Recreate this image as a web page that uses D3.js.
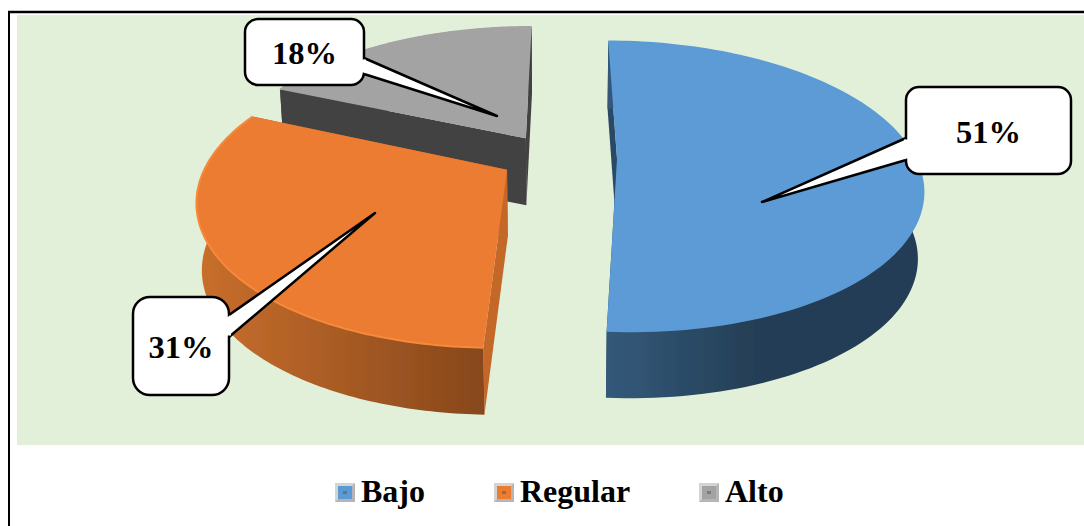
<!DOCTYPE html>
<html lang="es">
<head>
<meta charset="UTF-8">
<title>Bajo Regular Alto</title>
<script src="https://d3js.org/d3.v7.min.js"></script>
<style>
    html, body { margin: 0; padding: 0; background: #fff; overflow: hidden; }
    svg { display: block; }
    text { font-family: "Liberation Serif", serif; font-weight: bold; fill: #000; }
</style>
</head>
<body>
<script>
const categories = ["Bajo", "Regular", "Alto"];
const values = [51, 31, 18];
const labels = ["51%", "31%", "18%"];
const topColors = ["#5b9bd5", "#eb7c30", "#a3a3a3"];
const rimColors = ["#5b9bd5", "#f68a3a", "#a3a3a3"];
const innerColors = ["#2a4a66", "#c4682a", "#434343"];
const wallLeft = ["#34597a", "#c96f2d", "#434343"];
const wallRight = ["#243e55", "#87471b", "#434343"];

const width = 1084, height = 526;

// perspective view of the pie
const cx = 557, cy = 158, R = 298, ky = 0.4675, persp = 0.19;
const explode = [60, 57, 60], explodeY = 0.85, depth = 67, bottomScale = 0.985;
const rotation = 0.2 * Math.PI / 180;
// small turn of the slice edges (degrees) to follow the reference's 3D view
const turnStart = [0, -2, -2], turnEnd = [0, -2, 0];

// callout boxes, tail base is [side x, y1, y2]
const boxes = [
    { x: 906, y: 87, w: 165, h: 87, r: 13, base: [906, 138, 160], tip: [762, 202] },
    { x: 133, y: 297, w: 96, h: 98, r: 17, base: [229, 315, 337], tip: [375, 213] },
    { x: 245, y: 19, w: 119, h: 66, r: 13, base: [364, 58, 74], tip: [497, 116] }
];
const legendSwatchX = [335, 494, 699];

const svg = d3.select("body").append("svg")
    .attr("width", width)
    .attr("height", height);
const defs = svg.append("defs");
defs.append("filter").attr("id", "soft")
    .append("feGaussianBlur").attr("stdDeviation", 0.5);

// frame and plot background
svg.append("rect").attr("x", 17).attr("y", 15).attr("width", width - 17).attr("height", 430).attr("fill", "#e2efd9");
svg.append("line").attr("x1", 8).attr("x2", width).attr("y1", 12).attr("y2", 12).attr("stroke", "#000").attr("stroke-width", 2.5);
svg.append("line").attr("x1", 9).attr("x2", 9).attr("y1", 11).attr("y2", height).attr("stroke", "#000").attr("stroke-width", 2);

const pie = d3.pie().sort(null).startAngle(rotation).endAngle(rotation + 2 * Math.PI);
const arcs = pie(values);

// world point on the disc -> screen; level 0 = top face, 1 = bottom face
function project(wx, wy, level) {
    const s = 1 / (1 + persp * wy / R);
    const k = level ? bottomScale : 1;
    return [
        cx + wx * s * k,
        cy - ky * wy * s + (level ? depth : 0)
    ];
}

const line = d3.line();

function drawSlice(d, i) {
    const mid = (d.startAngle + d.endAngle) / 2;
    const ox = explode[i] * Math.sin(mid), oy = explode[i] * explodeY * Math.cos(mid);
    const a0 = d.startAngle + turnStart[i] * Math.PI / 180;
    const a1 = d.endAngle + turnEnd[i] * Math.PI / 180;
    const rimPoints = level => d3.range(0, 121).map(t => {
        const a = a0 + (a1 - a0) * t / 120;
        return project(ox + R * Math.sin(a), oy + R * Math.cos(a), level);
    });
    const apexTop = project(ox, oy, 0), apexBottom = project(ox, oy, 1);
    const top = rimPoints(0), bottom = rimPoints(1);
    const g = svg.append("g").attr("class", "slice").attr("filter", "url(#soft)");

    // radial faces
    [[top[0], bottom[0]], [top[120], bottom[120]]].forEach(e => {
        g.append("path")
            .attr("d", line([apexTop, e[0], e[1], apexBottom]) + "Z")
            .attr("fill", innerColors[i]);
    });

    // outer wall
    const xs = top.map(p => p[0]);
    const grad = defs.append("linearGradient")
        .attr("id", "wall" + i)
        .attr("gradientUnits", "userSpaceOnUse")
        .attr("x1", d3.min(xs))
        .attr("x2", i === 0 ? d3.min(xs) + 150 : bottom[0][0])
        .attr("y1", 0).attr("y2", 0);
    grad.append("stop").attr("offset", 0).attr("stop-color", wallLeft[i]);
    grad.append("stop").attr("offset", 1).attr("stop-color", wallRight[i]);
    g.append("path")
        .attr("d", line(top.concat(bottom.slice().reverse())) + "Z")
        .attr("fill", `url(#wall${i})`);

    // top face with a lit rim
    g.append("path")
        .attr("d", line([apexTop].concat(top)) + "Z")
        .attr("fill", topColors[i]);
    g.append("path")
        .attr("d", line(top))
        .attr("fill", "none")
        .attr("stroke", rimColors[i])
        .attr("stroke-width", 2);
}

// far slice first
[2, 1, 0].forEach(i => drawSlice(arcs[i], i));

// callouts
boxes.forEach((b, i) => {
    const g = svg.append("g").attr("class", "callout");
    const sx = b.base[0];
    const path = d3.path();
    path.moveTo(b.x + b.r, b.y);
    path.arcTo(b.x + b.w, b.y, b.x + b.w, b.y + b.h, b.r);
    path.arcTo(b.x + b.w, b.y + b.h, b.x, b.y + b.h, b.r);
    path.arcTo(b.x, b.y + b.h, b.x, b.y, b.r);
    path.arcTo(b.x, b.y, b.x + b.w, b.y, b.r);
    path.closePath();
    g.append("path").attr("d", path.toString())
        .attr("fill", "#fff").attr("stroke", "#000").attr("stroke-width", 2.5);
    // tail, drawn over the box edge so the opening stays white
    g.append("path")
        .attr("d", `M${sx},${b.base[1]}L${b.tip[0]},${b.tip[1]}L${sx},${b.base[2]}`)
        .attr("fill", "#fff").attr("stroke", "#000").attr("stroke-width", 2.5)
        .attr("stroke-linejoin", "round");
    g.append("rect")
        .attr("x", sx - 2).attr("y", b.base[1] + 1.5)
        .attr("width", 4).attr("height", b.base[2] - b.base[1] - 3)
        .attr("fill", "#fff");
    g.append("text")
        .attr("x", b.x + b.w / 2)
        .attr("y", b.y + b.h / 2 + 12)
        .attr("text-anchor", "middle")
        .attr("font-size", 32.5)
        .text(labels[i]);
});

// legend
const legend = svg.append("g").attr("class", "legend");
categories.forEach((name, i) => {
    const x = legendSwatchX[i], y = 483, size = 20;
    legend.append("rect").attr("x", x).attr("y", y).attr("width", size).attr("height", size - 1).attr("fill", "#d4d4d4");
    legend.append("path").attr("d", `M${x + size},${y}V${y + size - 1}H${x}L${x + 3},${y + size - 4}H${x + size - 3}V${y + 3}Z`).attr("fill", "#b5b5b5");
    legend.append("rect").attr("x", x + 3).attr("y", y + 3).attr("width", size - 6).attr("height", size - 7).attr("fill", topColors[i]);
    legend.append("rect").attr("x", x + 8).attr("y", y + 8).attr("width", 4).attr("height", 3).attr("fill", "#555").attr("opacity", 0.5);
    legend.append("text").attr("x", x + size + 6).attr("y", 502).attr("font-size", 32).text(name);
});
</script>
</body>
</html>
